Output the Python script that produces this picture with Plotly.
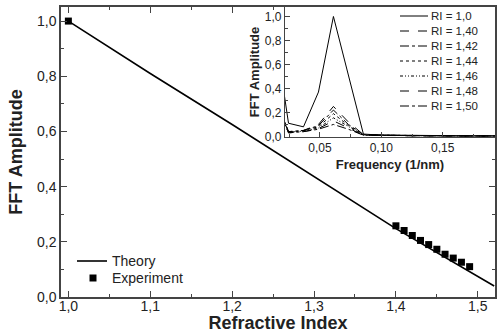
import plotly.graph_objects as go

# ---- main chart data ----
theory_ri = [1.0, 1.1, 1.2, 1.3, 1.4, 1.52]
theory_amp = [1.0, 0.81, 0.625, 0.435, 0.248, 0.04]

exp_ri = [1.0, 1.40, 1.41, 1.42, 1.43, 1.44, 1.45, 1.46, 1.47, 1.48, 1.49]
exp_amp = [1.0, 0.258, 0.241, 0.223, 0.205, 0.19, 0.173, 0.155, 0.141, 0.126, 0.11]

# ---- inset data ----
freq = [0.0122, 0.0244, 0.0366, 0.0488, 0.061, 0.0732, 0.0854, 0.0976,
        0.1098, 0.122, 0.1342, 0.1464, 0.1586, 0.1708, 0.183, 0.195]
ri_labels = ["RI = 1,0", "RI = 1,40", "RI = 1,42", "RI = 1,44",
             "RI = 1,46", "RI = 1,48", "RI = 1,50"]
amp_100 = [0.95, 0.11, 0.08, 0.37, 1.0, 0.5, 0.02, 0.012, 0.01, 0.008, 0.006, 0.006, 0.005, 0.005, 0.005, 0.005]
amp_140 = [0.36, 0.04, 0.05, 0.10, 0.25, 0.12, 0.015, 0.01, 0.008, 0.006, 0.005, 0.005, 0.004, 0.004, 0.004, 0.004]
amp_142 = [0.36, 0.04, 0.05, 0.09, 0.22, 0.10, 0.015, 0.01, 0.008, 0.006, 0.005, 0.005, 0.004, 0.004, 0.004, 0.004]
amp_144 = [0.35, 0.035, 0.05, 0.08, 0.19, 0.09, 0.012, 0.01, 0.008, 0.006, 0.005, 0.005, 0.004, 0.004, 0.004, 0.004]
amp_146 = [0.35, 0.035, 0.045, 0.07, 0.155, 0.08, 0.012, 0.01, 0.008, 0.006, 0.005, 0.005, 0.004, 0.004, 0.004, 0.004]
amp_148 = [0.34, 0.03, 0.04, 0.065, 0.13, 0.07, 0.01, 0.008, 0.007, 0.006, 0.005, 0.005, 0.004, 0.004, 0.004, 0.004]
amp_150 = [0.34, 0.03, 0.04, 0.06, 0.10, 0.06, 0.01, 0.008, 0.007, 0.006, 0.005, 0.005, 0.004, 0.004, 0.004, 0.004]
inset_series = [amp_100, amp_140, amp_142, amp_144, amp_146, amp_148, amp_150]
dashes = ["solid", "dash", "dashdot", "dot", "3px,2px,1px,2px,1px,2px", "dash", "dashdot"]

FONT = "Liberation Sans, Arial, sans-serif"
TXT = "#222222"
AX = "#444444"
W, H = 501, 333
ML, MR, MT, MB = 61, 6, 7, 36
PW, PH = W - ML - MR, H - MT - MB


def px_x(p):
    return (p - ML) / PW


def px_y(p):
    return (H - MB - p) / PH


fig = go.Figure()
fig.add_trace(go.Scatter(x=theory_ri, y=theory_amp, mode="lines", name="Theory",
                         showlegend=False, line=dict(color="black", width=1.6)))
fig.add_trace(go.Scatter(x=exp_ri, y=exp_amp, mode="markers", name="Experiment",
                         showlegend=False,
                         marker=dict(symbol="square", size=7, color="black")))

for lab, ys, d in zip(ri_labels, inset_series, dashes):
    fig.add_trace(go.Scatter(x=freq, y=ys, mode="lines", name=lab, xaxis="x2", yaxis="y2",
                             showlegend=False,
                             line=dict(color="black", width=1, dash=d)))

# main legend (manual, compact spacing as in the original)
fig.add_shape(type="line", xref="paper", yref="paper",
              x0=px_x(77), x1=px_x(107), y0=px_y(261), y1=px_y(261),
              line=dict(color="black", width=1.6))
fig.add_annotation(xref="paper", yref="paper", x=px_x(110), y=px_y(261), text="Theory",
                   showarrow=False, xanchor="left", yanchor="middle",
                   font=dict(size=14, family=FONT, color=TXT))
fig.add_shape(type="rect", xref="paper", yref="paper",
              x0=px_x(89.5), x1=px_x(96.5), y0=px_y(274.5), y1=px_y(281.5),
              line=dict(width=0), fillcolor="black")
fig.add_annotation(xref="paper", yref="paper", x=px_x(110), y=px_y(278), text="Experiment",
                   showarrow=False, xanchor="left", yanchor="middle",
                   font=dict(size=14, family=FONT, color=TXT))

# inset legend (manual, compact spacing)
for i, (lab, d) in enumerate(zip(ri_labels, dashes)):
    yc = 16 + 15 * i
    fig.add_shape(type="line", xref="paper", yref="paper",
                  x0=px_x(400), x1=px_x(428), y0=px_y(yc), y1=px_y(yc),
                  line=dict(color="black", width=1, dash=d))
    fig.add_annotation(xref="paper", yref="paper", x=px_x(429), y=px_y(yc),
                       text=lab, showarrow=False, xanchor="left", yanchor="middle",
                       font=dict(size=11.5, family=FONT, color=TXT))

fig.update_layout(
    width=W, height=H,
    margin=dict(l=ML, r=MR, t=MT, b=MB),
    paper_bgcolor="white", plot_bgcolor="white",
    separators=", ",
    font=dict(family=FONT, color=TXT),
    showlegend=False,
    xaxis=dict(range=[0.991, 1.521], dtick=0.1, tick0=1.0, tickformat=".1f",
               ticks="inside", ticklen=6, tickwidth=1.2, tickcolor=AX,
               minor=dict(ticks="inside", ticklen=3, dtick=0.05, tickcolor=AX),
               showline=True, linecolor=AX, linewidth=1.5, mirror="allticks",
               showgrid=False, zeroline=False, tickfont=dict(size=14), automargin=False,
               ticklabelstandoff=-5,
               title=dict(text="<b>Refractive Index</b>", font=dict(size=18), standoff=0)),
    yaxis=dict(range=[0, 1.051], dtick=0.2, tick0=0, tickformat=".1f",
               ticks="inside", ticklen=6, tickwidth=1.2, tickcolor=AX,
               minor=dict(ticks="inside", ticklen=3, dtick=0.1, tickcolor=AX),
               showline=True, linecolor=AX, linewidth=1.5, mirror="allticks",
               showgrid=False, zeroline=False, tickfont=dict(size=14), automargin=False,
               title=dict(text="<b>FFT Amplitude</b>", font=dict(size=18), standoff=10)),
    xaxis2=dict(domain=[0.516, 1.0], anchor="y2", range=[0.0215, 0.1926],
                dtick=0.05, tick0=0, tickformat=".2f",
                ticks="inside", ticklen=5, tickwidth=1, tickcolor=AX,
                minor=dict(ticks="inside", ticklen=3, dtick=0.025, tickcolor=AX),
                showline=True, linecolor=AX, linewidth=1.2, mirror=False,
                showgrid=False, zeroline=False, tickfont=dict(size=12), automargin=False,
                title=dict(text="<b>Frequency (1/nm)</b>", font=dict(size=13), standoff=5)),
    yaxis2=dict(domain=[0.552, 1.0], anchor="x2", range=[-0.004, 1.079],
                dtick=0.2, tick0=0, tickformat=".1f",
                ticks="inside", ticklen=5, tickwidth=1, tickcolor=AX,
                minor=dict(ticks="inside", ticklen=3, dtick=0.1, tickcolor=AX),
                showline=True, linecolor=AX, linewidth=1.2, mirror=False,
                showgrid=False, zeroline=False, tickfont=dict(size=12), automargin=False,
                title=dict(text="<b>FFT Amplitude</b>", font=dict(size=13), standoff=2)),
)

fig.write_html("out.html", config={"displayModeBar": False},
               post_script="document.body.style.margin='0';")
